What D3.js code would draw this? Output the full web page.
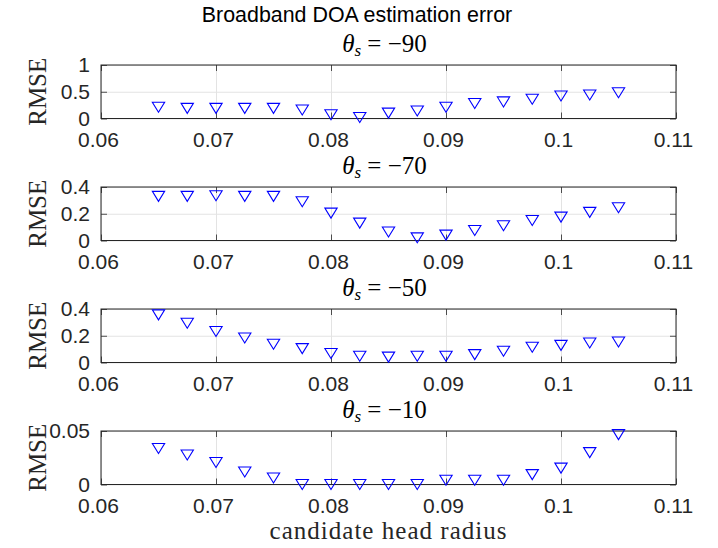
<!DOCTYPE html>
<html>
<head>
<meta charset="utf-8">
<script src="https://cdn.jsdelivr.net/npm/d3@7"></script>
<style>
	body { margin: 0; background: #fff; }
	svg { display: block; }
</style>
</head>
<body>
<svg width="718" height="548"></svg>
<script>
// candidate head radius values (x) and RMSE per source angle
const radii = [0.065, 0.0675, 0.07, 0.0725, 0.075, 0.0775, 0.08, 0.0825, 0.085, 0.0875, 0.09, 0.0925, 0.095, 0.0975, 0.1, 0.1025, 0.105]
const thetas = ['−90', '−70', '−50', '−10']
const rmse90 = [0.21, 0.19, 0.19, 0.19, 0.19, 0.16, 0.07, 0.02, 0.10, 0.14, 0.21, 0.28, 0.31, 0.36, 0.42, 0.44, 0.48]
const rmse70 = [0.33, 0.33, 0.335, 0.33, 0.33, 0.29, 0.205, 0.13, 0.063, 0.02, 0.04, 0.075, 0.11, 0.15, 0.175, 0.21, 0.245]
const rmse50 = [0.356, 0.294, 0.232, 0.183, 0.136, 0.104, 0.067, 0.047, 0.04, 0.047, 0.047, 0.059, 0.084, 0.114, 0.128, 0.146, 0.153]
const rmse10 = [0.0337, 0.0276, 0.0206, 0.0117, 0.0061, 0, 0, 0, 0, 0, 0.004, 0.004, 0.004, 0.0092, 0.0153, 0.0298, 0.0466]
const xTicks = [0.06, 0.07, 0.08, 0.09, 0.1, 0.11]
const yTicks = [[0, 0.5, 1], [0, 0.2, 0.4], [0, 0.2, 0.4], [0, 0.05]]
const series = [rmse90, rmse70, rmse50, rmse10]

const svg = d3.select('svg')
const width = +svg.attr('width')
const left = 101
const right = 676
const plotH = 53.5
const tops = [65, 187, 309, 431]
const axisColor = '#262626'
const gridColor = '#e3e3e3'
const tickLen = 6
const sans = '"Liberation Sans", Arial, sans-serif'
const serif = '"Liberation Serif", "Times New Roman", serif'

svg.append('rect').attr('width', 718).attr('height', 548).attr('fill', '#fff')

// figure title is centred on the whole figure, not on the axes
svg.append('text')
	.attr('x', width / 2 - 2)
	.attr('y', 22)
	.attr('text-anchor', 'middle')
	.style('font-family', sans)
	.style('font-size', '21.4px')
	.attr('fill', '#000')
	.text('Broadband DOA estimation error')

const x = d3.scaleLinear().domain([0.06, 0.11]).range([left, right])

// downward triangle marker, centred on its bounding box
const tri = (w, h) => `M${-w / 2},${-h / 2}L${w / 2},${-h / 2}L0,${h / 2}Z`

const styleAxis = (g) => {
	g.select('.domain').remove()
	g.selectAll('.tick line').attr('stroke', axisColor).attr('stroke-width', 0.8)
	g.selectAll('text')
		.style('font-family', sans)
		.style('font-size', '21px')
		.attr('fill', axisColor)
}

series.forEach((vals, k) => {
	const top = tops[k]
	const bottom = top + plotH
	const ticks = yTicks[k]
	const y = d3.scaleLinear().domain([0, d3.max(ticks)]).range([bottom, top])
	const g = svg.append('g')

	// grid
	g.append('g')
		.attr('transform', `translate(0,${bottom})`)
		.call(d3.axisBottom(x).tickValues(xTicks).tickSize(-plotH).tickFormat(''))
		.call(a => a.select('.domain').remove())
		.selectAll('line').attr('stroke', gridColor).attr('stroke-width', 1)
	g.append('g')
		.attr('transform', `translate(${left},0)`)
		.call(d3.axisLeft(y).tickValues(ticks).tickSize(-(right - left)).tickFormat(''))
		.call(a => a.select('.domain').remove())
		.selectAll('line').attr('stroke', gridColor).attr('stroke-width', 1)

	// ticks and labels
	g.append('g')
		.attr('transform', `translate(0,${bottom})`)
		.call(d3.axisBottom(x).tickValues(xTicks).tickSizeInner(-tickLen).tickSizeOuter(0).tickPadding(14).tickFormat(d => String(d)))
		.call(styleAxis)
		.selectAll('text').attr('dx', -3)
	g.append('g')
		.attr('transform', `translate(0,${top})`)
		.call(d3.axisTop(x).tickValues(xTicks).tickSizeInner(-tickLen).tickSizeOuter(0).tickFormat(''))
		.call(styleAxis)
	g.append('g')
		.attr('transform', `translate(${left},0)`)
		.call(d3.axisLeft(y).tickValues(ticks).tickSizeInner(-tickLen).tickSizeOuter(0).tickPadding(11).tickFormat(d => String(d)))
		.call(styleAxis)
	g.append('g')
		.attr('transform', `translate(${right},0)`)
		.call(d3.axisRight(y).tickValues(ticks).tickSizeInner(-tickLen).tickSizeOuter(0).tickFormat(''))
		.call(styleAxis)

	g.append('rect')
		.attr('x', left)
		.attr('y', top)
		.attr('width', right - left)
		.attr('height', plotH)
		.attr('fill', 'none')
		.attr('stroke', axisColor)
		.attr('stroke-width', 1)

	// subplot title
	const title = g.append('text')
		.attr('x', (left + right) / 2 - 4)
		.attr('y', top - 13)
		.attr('text-anchor', 'middle')
		.style('font-family', serif)
		.style('font-size', '25px')
		.attr('fill', '#000')
	title.append('tspan').style('font-style', 'italic').text('θ')
	title.append('tspan').style('font-style', 'italic').style('font-size', '17px').attr('dy', 4).text('s')
	title.append('tspan').attr('dy', -4).text(` = ${thetas[k]}`)

	g.append('text')
		.attr('transform', `translate(45.5,${(top + bottom) / 2}) rotate(-90)`)
		.attr('text-anchor', 'middle')
		.style('font-family', serif)
		.style('font-size', '25px')
		.attr('fill', axisColor)
		.text('RMSE')

	g.selectAll('.marker')
		.data(vals)
		.enter()
		.append('path')
		.attr('class', 'marker')
		.attr('d', tri(12.3, 10))
		.attr('transform', (d, i) => `translate(${x(radii[i])},${y(d)})`)
		.attr('fill', 'none')
		.attr('stroke', '#0000ff')
		.attr('stroke-width', 1.1)
})

svg.append('text')
	.attr('x', 388)
	.attr('y', 539)
	.attr('text-anchor', 'middle')
	.style('font-family', serif)
	.style('font-size', '25px')
	.attr('fill', axisColor)
	.attr('textLength', 237)
	.attr('lengthAdjust', 'spacing')
	.text('candidate head radius')
</script>
</body>
</html>
